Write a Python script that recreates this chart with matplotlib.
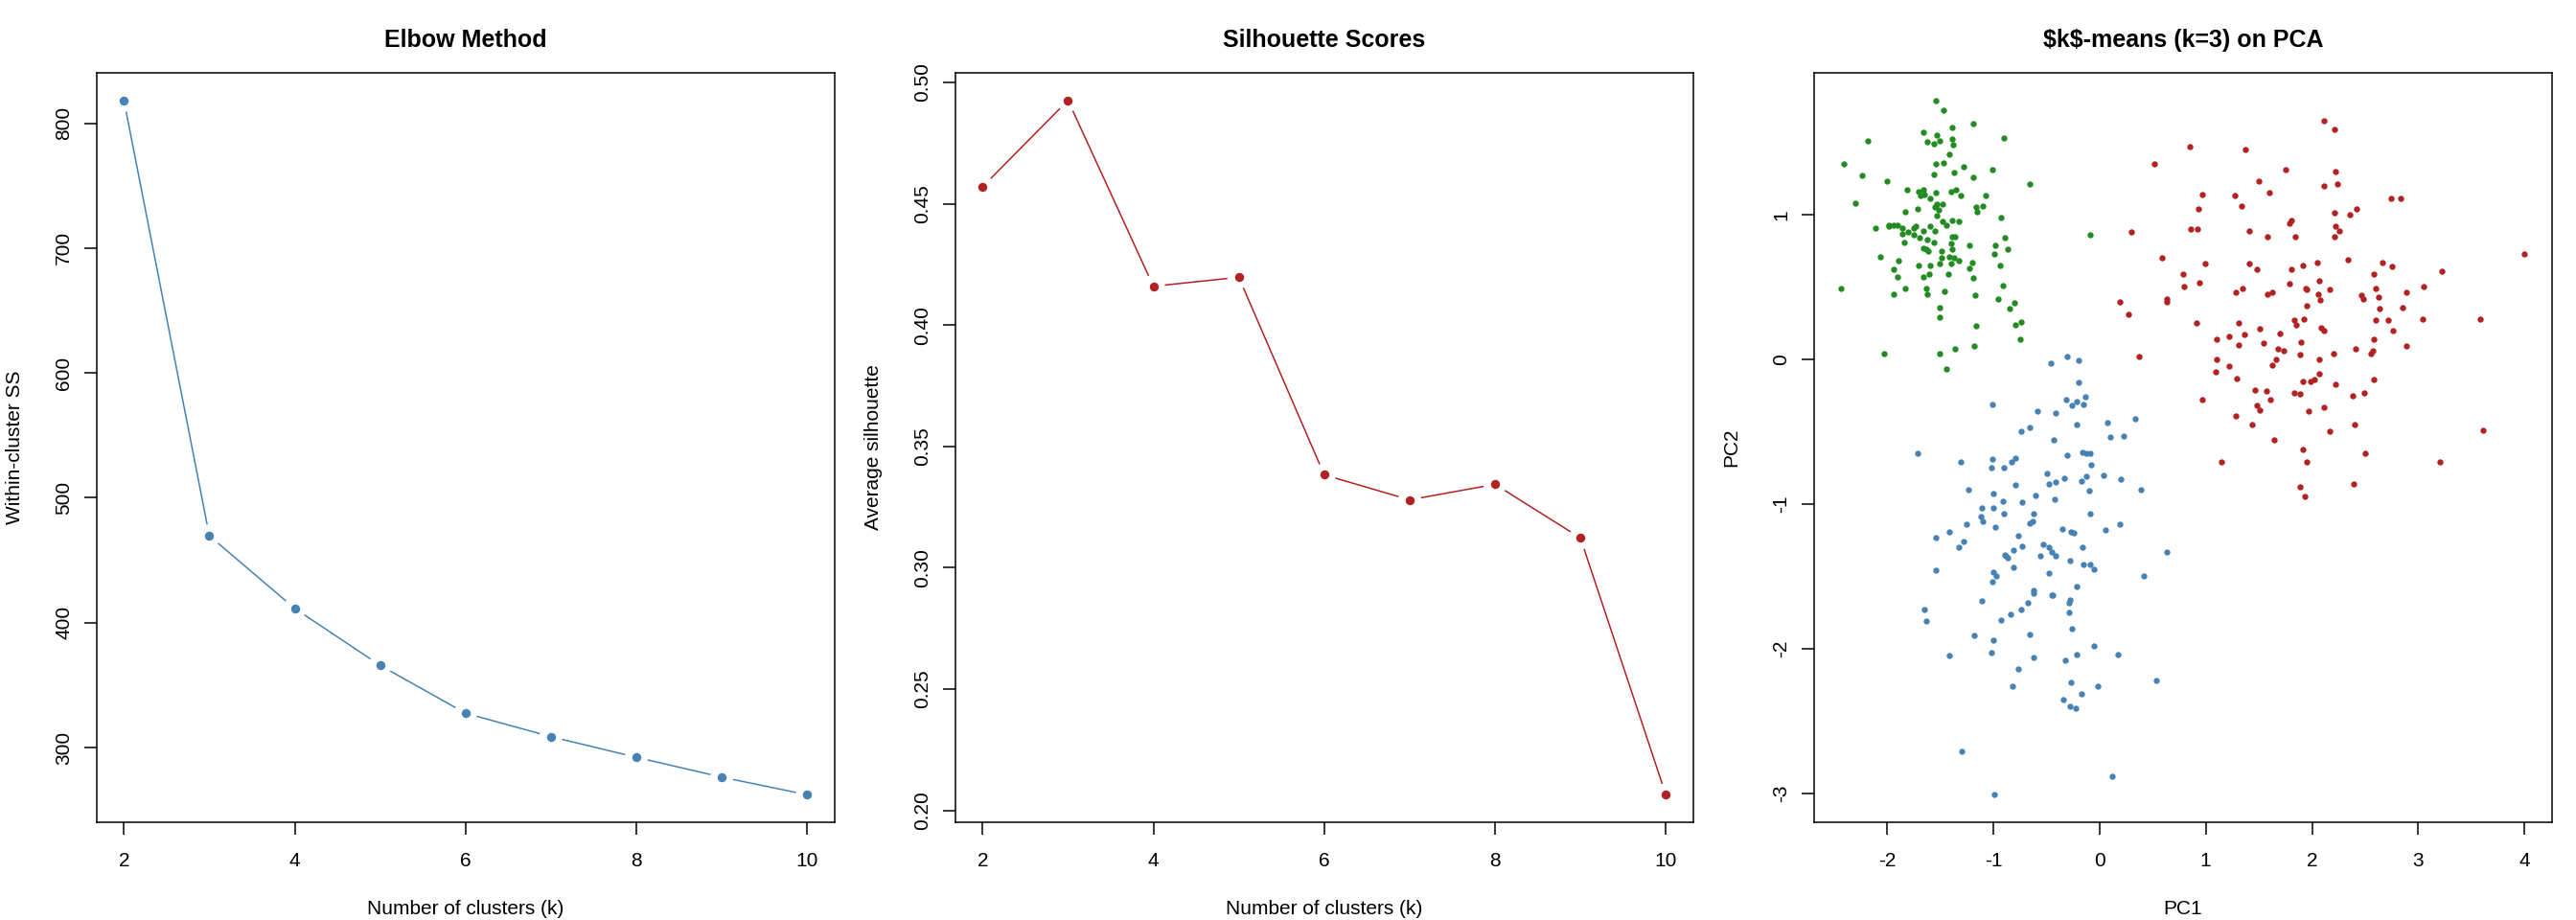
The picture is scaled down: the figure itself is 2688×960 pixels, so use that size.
import numpy as np
import matplotlib
matplotlib.use("Agg")
import matplotlib.pyplot as plt

plt.rcParams['font.family'] = ['Liberation Sans', 'DejaVu Sans']
plt.rcParams['axes.unicode_minus'] = False

# ---- data ----
k_values = [2, 3, 4, 5, 6, 7, 8, 9, 10]
wss = [818.3, 469.6, 411.4, 365.8, 327.5, 308.7, 292.2, 276.3, 262.2]
sil = [0.457, 0.4926, 0.416, 0.4197, 0.3383, 0.328, 0.3344, 0.3123, 0.2065]

green_pc1 = [-1.54, -1.47, -1.19, -1.39, -1.66, -1.53, -2.18, -1.62, -1.56, -1.50,
             -1.39, -1.38, -0.90, -1.41, -2.41, -1.54, -1.47, -1.28, -1.01, -2.23,
             -1.56, -1.37, -1.19, -2.00, -0.66, -1.81, -1.70, -1.66, -1.68, -1.65,
             -1.54, -1.40, -1.35, -1.31, -1.07, -2.30, -1.59, -1.53, -1.48, -1.55,
             -1.51, -1.71, -1.16, -1.15, -1.10, -1.83, -1.53, -0.93, -1.48, -1.44,
             -1.39, -1.32, -2.11, -1.98, -1.98, -1.94, -1.90, -1.86, -1.75, -1.73,
             -1.59, -1.55, -1.80, -1.86, -1.75, -1.66, -1.69, -1.62, -1.39, -1.36,
             -1.84, -1.56, -1.40, -1.22, -0.98, -0.89, -1.66, -1.63, -1.61, -1.49,
             -1.39, -0.86, -0.99, -2.06, -1.89, -1.49, -1.41, -1.37, -1.32, -1.20,
             -1.22, -1.70, -1.59, -1.50, -1.40, -0.94, -1.94, -1.90, -1.66, -1.60,
             -1.42, -1.19, -2.43, -1.83, -1.63, -1.62, -1.94, -1.46, -1.17, -0.91,
             -0.95, -0.80, -0.85, -1.50, -1.50, -1.16, -0.79, -0.74, -0.75, -1.18,
             -1.36, -1.50, -2.03, -1.44, -0.09]
green_pc2 = [1.79, 1.72, 1.63, 1.60, 1.57, 1.55, 1.51, 1.50, 1.49, 1.51,
             1.52, 1.48, 1.53, 1.42, 1.35, 1.35, 1.36, 1.33, 1.31, 1.27,
             1.28, 1.29, 1.26, 1.23, 1.21, 1.17, 1.16, 1.17, 1.13, 1.14,
             1.15, 1.16, 1.17, 1.13, 1.13, 1.08, 1.11, 1.07, 1.07, 1.05,
             1.03, 1.04, 1.05, 1.02, 1.06, 1.02, 0.99, 0.98, 0.95, 0.93,
             0.96, 0.95, 0.91, 0.93, 0.92, 0.93, 0.93, 0.91, 0.91, 0.92,
             0.92, 0.89, 0.88, 0.87, 0.86, 0.89, 0.84, 0.83, 0.85, 0.85,
             0.81, 0.81, 0.80, 0.79, 0.79, 0.84, 0.77, 0.76, 0.75, 0.75,
             0.76, 0.76, 0.73, 0.71, 0.68, 0.70, 0.71, 0.70, 0.68, 0.67,
             0.63, 0.65, 0.65, 0.66, 0.66, 0.65, 0.62, 0.57, 0.57, 0.59,
             0.59, 0.56, 0.49, 0.49, 0.49, 0.45, 0.45, 0.47, 0.44, 0.51,
             0.42, 0.39, 0.35, 0.36, 0.29, 0.23, 0.24, 0.26, 0.14, 0.09,
             0.07, 0.04, 0.04, -0.07, 0.86]

red_pc1 = [0.85, 0.52, 0.86, 0.30, 0.59, 0.79, 0.80, 0.63, 0.63, 0.19,
           0.27, 0.37, 2.11, 2.21, 1.37, 1.75, 2.22, 1.50, 2.11, 2.24,
           0.97, 1.27, 1.60, 1.34, 0.93, 2.74, 2.83, 2.21, 2.36, 2.42,
           0.92, 1.41, 1.58, 1.79, 1.81, 1.84, 2.22, 2.26, 2.21, 4.00,
           0.99, 1.41, 1.48, 1.81, 1.91, 2.05, 2.34, 2.66, 2.75, 2.58,
           3.22, 0.94, 1.28, 1.35, 1.58, 1.63, 1.79, 1.94, 1.95, 2.07,
           2.06, 2.08, 2.17, 2.46, 2.48, 2.60, 2.63, 2.89, 3.05, 2.64,
           2.85, 1.95, 0.91, 1.31, 1.51, 1.83, 1.85, 1.92, 2.09, 2.11,
           2.60, 2.72, 3.04, 3.58, 2.76, 1.10, 1.22, 1.36, 1.31, 1.54,
           1.70, 1.90, 2.58, 2.89, 1.10, 1.22, 1.68, 1.73, 1.66, 1.63,
           1.89, 2.07, 2.20, 2.41, 2.57, 2.55, 1.09, 1.29, 1.91, 1.99,
           2.02, 2.07, 2.22, 2.58, 1.46, 1.57, 1.61, 1.83, 1.89, 2.38,
           2.49, 0.97, 1.48, 1.51, 1.97, 2.11, 1.28, 1.44, 2.17, 2.40,
           3.61, 1.64, 1.91, 1.15, 1.95, 2.50, 3.20, 1.89, 1.93, 2.39]
red_pc2 = [1.47, 1.35, 0.90, 0.88, 0.70, 0.59, 0.50, 0.42, 0.40, 0.40,
           0.31, 0.02, 1.65, 1.59, 1.45, 1.31, 1.30, 1.23, 1.20, 1.21,
           1.14, 1.13, 1.15, 1.06, 1.04, 1.11, 1.11, 1.01, 1.00, 1.04,
           0.90, 0.89, 0.85, 0.94, 0.96, 0.85, 0.92, 0.89, 0.85, 0.73,
           0.66, 0.66, 0.62, 0.62, 0.65, 0.67, 0.69, 0.67, 0.64, 0.59,
           0.61, 0.53, 0.46, 0.49, 0.45, 0.46, 0.52, 0.49, 0.48, 0.54,
           0.45, 0.41, 0.48, 0.44, 0.42, 0.49, 0.43, 0.46, 0.50, 0.35,
           0.36, 0.37, 0.25, 0.25, 0.21, 0.27, 0.24, 0.28, 0.22, 0.20,
           0.27, 0.27, 0.28, 0.28, 0.20, 0.14, 0.16, 0.17, 0.10, 0.11,
           0.18, 0.12, 0.14, 0.09, 0.00, -0.05, 0.07, 0.06, 0.00, -0.04,
           0.03, 0.00, 0.04, 0.07, 0.06, 0.04, -0.09, -0.13, -0.15, -0.15,
           -0.14, -0.10, -0.17, -0.14, -0.21, -0.22, -0.28, -0.23, -0.24, -0.25,
           -0.23, -0.28, -0.32, -0.35, -0.36, -0.33, -0.39, -0.45, -0.50, -0.45,
           -0.49, -0.56, -0.62, -0.71, -0.71, -0.65, -0.71, -0.88, -0.95, -0.86]

blue_pc1 = [-0.46, -0.30, -0.20, -0.20, -0.13, -0.31, -0.21, -0.15, -0.26, -1.01,
            -0.58, -0.41, -0.21, 0.07, 0.34, -0.74, -0.66, 0.10, 0.23, -0.43,
            -1.71, -1.31, -1.01, -1.02, -0.90, -0.83, -0.79, -0.30, -0.16, -0.12,
            -0.09, -0.08, -0.49, -0.48, -0.41, -0.33, -0.17, -0.12, 0.04, 0.20,
            0.39, -0.10, -1.23, -1.00, -0.79, -0.60, -0.91, -0.73, -0.42, -1.11,
            -1.00, -0.90, -0.62, -1.12, -1.10, -1.25, -0.98, -0.66, -0.63, -0.09,
            0.19, 0.06, -0.35, -0.27, -0.24, -1.54, -1.41, -1.28, -1.32, -0.76,
            -0.73, -0.81, -0.89, -0.88, -0.86, -0.56, -0.53, -0.48, -0.45, -0.41,
            -0.16, -0.28, -0.15, -0.09, -0.05, 0.63, -1.54, -1.00, -0.97, -1.01,
            -0.81, -0.48, 0.42, -0.21, -0.62, -0.62, -0.45, -0.44, -1.11, -0.67,
            -0.74, -0.84, -0.93, -0.29, -0.28, -0.29, -1.65, -1.63, -0.26, -1.18,
            -1.00, -0.66, -1.02, -1.41, -0.62, -0.32, -0.21, -0.05, 0.17, -0.76,
            -0.82, -0.27, -0.02, 0.53, -0.17, -0.34, -0.28, -0.22, -1.30, 0.12,
            -0.99]
blue_pc2 = [-0.03, 0.02, -0.01, -0.16, -0.26, -0.28, -0.29, -0.31, -0.32, -0.31,
            -0.36, -0.37, -0.45, -0.44, -0.41, -0.50, -0.47, -0.54, -0.53, -0.56,
            -0.65, -0.71, -0.69, -0.75, -0.75, -0.71, -0.68, -0.66, -0.64, -0.65,
            -0.65, -0.73, -0.79, -0.86, -0.85, -0.82, -0.84, -0.81, -0.80, -0.83,
            -0.90, -0.91, -0.90, -0.93, -0.87, -0.94, -0.98, -0.99, -0.97, -1.03,
            -1.03, -1.07, -1.07, -1.09, -1.12, -1.14, -1.16, -1.13, -1.12, -1.07,
            -1.14, -1.18, -1.17, -1.19, -1.20, -1.23, -1.19, -1.26, -1.30, -1.22,
            -1.29, -1.32, -1.35, -1.36, -1.37, -1.36, -1.28, -1.30, -1.33, -1.36,
            -1.30, -1.39, -1.42, -1.42, -1.45, -1.33, -1.46, -1.47, -1.50, -1.54,
            -1.44, -1.48, -1.50, -1.57, -1.60, -1.62, -1.63, -1.63, -1.67, -1.68,
            -1.73, -1.76, -1.80, -1.68, -1.66, -1.75, -1.73, -1.81, -1.86, -1.91,
            -1.94, -1.90, -2.03, -2.05, -2.06, -2.08, -2.04, -1.98, -2.04, -2.14,
            -2.26, -2.23, -2.26, -2.22, -2.31, -2.35, -2.40, -2.41, -2.71, -2.88,
            -3.01]

STEEL = '#4682B4'
FIRE = '#B22222'
FOREST = '#228B22'
FS = 15


def r_lim(v):
    # R's default axis range: data range padded by 4% on each side
    lo, hi = min(v), max(v)
    pad = 0.04 * (hi - lo)
    return lo - pad, hi + pad


def style_axes(ax):
    for s in ax.spines.values():
        s.set_linewidth(1.1)
    ax.tick_params(direction='out', length=9.6, width=1.1, labelsize=FS)
    ax.tick_params(axis='x', pad=12.5)
    ax.tick_params(axis='y', pad=8.0)
    for lab in ax.get_yticklabels():
        lab.set_rotation(90)
        lab.set_va('center')


def type_b(ax, x, y, color, gap=12):
    # lines with gaps around the points, like R's type = "b"
    pts = ax.transData.transform(np.column_stack([x, y]))
    inv = ax.transData.inverted()
    for p0, p1 in zip(pts[:-1], pts[1:]):
        d = p1 - p0
        L = np.hypot(d[0], d[1])
        if L <= 2 * gap:
            continue
        u = d / L
        a = inv.transform(p0 + u * gap)
        b = inv.transform(p1 - u * gap)
        ax.plot([a[0], b[0]], [a[1], b[1]], color=color, lw=1.1,
                solid_capstyle='butt')
    ax.plot(x, y, 'o', color=color, ms=6.8, mec=color, mew=0)


fig = plt.figure(figsize=(26.88, 9.6), dpi=100)
W, H = 2688.0, 960.0
axes = []
for i in range(3):
    left = (896 * i + 100.8) / W
    ax = fig.add_axes([left, (H - 858.3) / H, 770.0 / W, 782.6 / H])
    axes.append(ax)

# Elbow
ax = axes[0]
ax.set_xlim(r_lim(k_values))
ax.set_ylim(r_lim(wss))
ax.set_xticks([2, 4, 6, 8, 10])
ax.set_yticks([300, 400, 500, 600, 700, 800])
type_b(ax, k_values, wss, STEEL)
ax.set_title('Elbow Method', fontsize=18, fontweight='bold', pad=19)
ax.set_xlabel('Number of clusters (k)', fontsize=FS)
ax.set_ylabel('Within-cluster SS', fontsize=FS)

# Silhouette
ax = axes[1]
ax.set_xlim(r_lim(k_values))
ax.set_ylim(r_lim(sil))
ax.set_xticks([2, 4, 6, 8, 10])
ax.set_yticks([0.20, 0.25, 0.30, 0.35, 0.40, 0.45, 0.50])
ax.set_yticklabels(['0.20', '0.25', '0.30', '0.35', '0.40', '0.45', '0.50'])
type_b(ax, k_values, sil, FIRE)
ax.set_title('Silhouette Scores', fontsize=18, fontweight='bold', pad=19)
ax.set_xlabel('Number of clusters (k)', fontsize=FS)
ax.set_ylabel('Average silhouette', fontsize=FS)

# PCA scatter
ax = axes[2]
all_x = green_pc1 + red_pc1 + blue_pc1
all_y = green_pc2 + red_pc2 + blue_pc2
ax.set_xlim(r_lim(all_x))
ax.set_ylim(r_lim(all_y))
ax.set_xticks([-2, -1, 0, 1, 2, 3, 4])
ax.set_yticks([-3, -2, -1, 0, 1])
ax.scatter(green_pc1, green_pc2, s=21, color=FOREST, linewidths=0)
ax.scatter(red_pc1, red_pc2, s=21, color=FIRE, linewidths=0)
ax.scatter(blue_pc1, blue_pc2, s=21, color=STEEL, linewidths=0)
ax.set_title(r'\$k\$-means (k=3) on PCA', fontsize=18, fontweight='bold', pad=19)
ax.set_xlabel('PC1', fontsize=FS)
ax.set_ylabel('PC2', fontsize=FS)

for ax in axes:
    style_axes(ax)
    ax.xaxis.set_label_coords(0.5, -0.1035)
    ax.yaxis.set_label_coords(-0.099, 0.5)

fig.savefig('out.png', dpi=100)
